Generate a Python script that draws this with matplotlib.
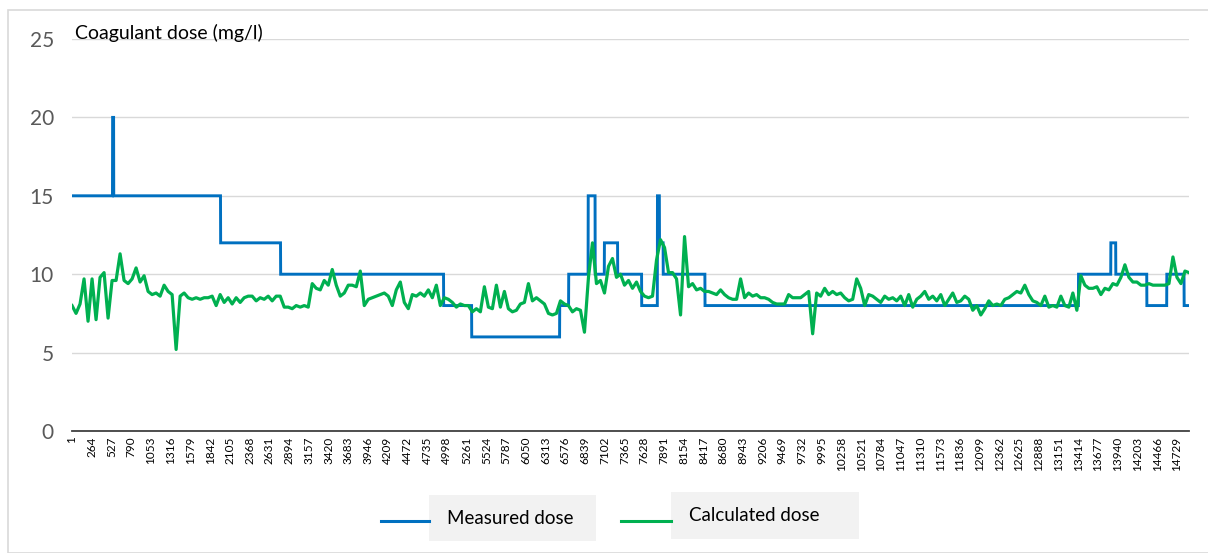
import numpy as np
import matplotlib
matplotlib.use("Agg")
import matplotlib.pyplot as plt
from matplotlib.patches import Rectangle
from matplotlib.lines import Line2D

plt.rcParams['font.family'] = ['Lato', 'DejaVu Sans']

# number of samples on the category axis
n_points = 14890
tick_step = 263

# measured dose: step levels and the sample where each level starts
blue_starts = [0, 540, 555, 1980, 2780, 4953, 5327, 6500, 6620, 6880, 6973,
               7096, 7273, 7593, 7803, 7830, 7880, 8437, 13416, 13847, 13913,
               14327, 14593, 14824]
blue_levels = [15, 20, 15, 12, 10, 8, 6, 8, 10, 15, 10,
               12, 10, 8, 15, 12, 10, 8, 10, 12, 10,
               8, 10, 8]

# calculated dose at even spacing
green_values = [
    # part 1
    8.0, 7.5, 8.1, 9.7, 7.0, 9.7, 7.1, 9.8, 10.1, 7.2,
    9.6, 9.6, 11.3, 9.6, 9.4, 9.7, 10.4, 9.5, 9.9, 8.9,
    8.7, 8.8, 8.6, 9.3, 8.9, 8.7, 5.2, 8.6, 8.8, 8.5,
    8.4, 8.5, 8.4, 8.5, 8.5, 8.6, 8.0, 8.7, 8.2, 8.5,
    8.1, 8.5, 8.2, 8.5, 8.6, 8.6, 8.3, 8.5, 8.4, 8.6,
    8.3, 8.6, 8.6, 7.9, 7.9, 7.8,
    # part 2
    8.0, 7.9, 8.0, 7.9, 9.4, 9.1, 9.0, 9.6, 9.3, 10.3,
    9.3, 8.6, 8.8, 9.3, 9.3, 9.2, 10.2, 8.0, 8.4, 8.5,
    8.6, 8.7, 8.8, 8.6, 8.0, 9.0, 9.5, 8.2, 7.8, 8.7,
    8.6, 8.8, 8.6, 9.0, 8.5, 9.3, 8.0, 8.5, 8.4, 8.2,
    7.9, 8.1, 8.0, 8.0, 7.6, 7.8, 7.6, 9.2, 7.9, 7.8,
    9.3, 7.9, 8.9, 7.8, 7.6,
    # part 3
    7.7, 8.1, 8.2, 9.4, 8.3, 8.5, 8.3, 8.1, 7.5, 7.4,
    7.5, 8.3, 8.1, 8.0, 7.6, 7.8, 7.7, 6.3, 9.8, 12.0,
    9.4, 9.6, 8.8, 10.5, 11.0, 9.8, 10.0, 9.3, 9.6, 9.1,
    9.5, 8.9, 8.6, 8.5, 8.6, 10.9, 12.2, 11.7, 10.1, 10.1,
    9.7, 7.4, 12.4, 9.2, 9.4, 9.0, 9.1, 8.9, 8.9, 8.8,
    8.7, 9.0, 8.7, 8.5, 8.4, 8.4,
    # part 4
    9.7, 8.5, 8.8, 8.6, 8.7, 8.5, 8.5, 8.4, 8.2, 8.1,
    8.1, 8.1, 8.7, 8.5, 8.5, 8.5, 8.7, 8.9, 6.2, 8.8,
    8.6, 9.1, 8.7, 8.9, 8.7, 8.8, 8.5, 8.3, 8.4, 9.7,
    9.1, 8.0, 8.7, 8.6, 8.4, 8.2, 8.6, 8.4, 8.5, 8.3,
    8.6, 8.0, 8.7, 7.9, 8.4, 8.6, 8.9, 8.4, 8.6, 8.3,
    8.7, 8.0, 8.4, 8.8, 8.2,
    # part 5
    8.3, 8.6, 8.4, 7.7, 8.0, 7.4, 7.8, 8.3, 8.0, 8.1,
    8.0, 8.4, 8.5, 8.7, 8.9, 8.8, 9.3, 8.7, 8.3, 8.2,
    8.0, 8.6, 7.9, 8.0, 7.9, 8.6, 8.0, 7.9, 8.8, 7.7,
    9.9, 9.3, 9.1, 9.1, 9.2, 8.7, 9.1, 9.0, 9.4, 9.3,
    9.8, 10.6, 9.8, 9.5, 9.5, 9.3, 9.3, 9.4, 9.3, 9.3,
    9.3, 9.3, 9.4, 11.1, 9.8, 9.4, 10.2, 10.1,
]

y_ticks = [0, 5, 10, 15, 20, 25]
y_title = 'Coagulant dose (mg/l)'
series_names = ['Measured dose', 'Calculated dose']
blue_color = '#0070c0'
green_color = '#00b050'

# build the measured series from its steps
measured = np.repeat(blue_levels, np.diff(np.array(blue_starts + [n_points])))
x_all = np.arange(n_points)
x_green = np.linspace(0, n_points - 1, len(green_values))

fig = plt.figure(figsize=(12.08, 5.53), dpi=100)
W, H = 1208, 553

# light frame of the chart area
fig.patches.append(Rectangle((8 / W, 0), 1.0, 1 - 10 / H, transform=fig.transFigure,
                             fill=False, edgecolor='#d9d9d9', linewidth=1.2))

ax = fig.add_axes([72 / W, 1 - 431 / H, (1189 - 72) / W, (431 - 39) / H])
ax.plot(x_all, measured, color=blue_color, linewidth=2.1, solid_joinstyle='miter')
ax.plot(x_green, green_values, color=green_color, linewidth=2.3)

ax.set_xlim(-0.5, n_points - 0.5)
ax.set_ylim(0, 25)
ax.set_yticks(y_ticks)
ax.set_yticklabels([str(v) for v in y_ticks], fontsize=15, color='#595959')
ax.yaxis.grid(True, color='#d9d9d9', linewidth=1)
ax.set_axisbelow(True)

tick_pos = np.arange(0, n_points, tick_step)
ax.set_xticks(tick_pos)
ax.set_xticklabels([str(p + 1) for p in tick_pos], rotation=90, fontsize=8.5,
                   color='#000000')
ax.tick_params(axis='both', length=0, pad=4)
ax.tick_params(axis='y', pad=13)

for side in ['top', 'right', 'left']:
    ax.spines[side].set_visible(False)
ax.spines['bottom'].set_color('#404040')
ax.spines['bottom'].set_linewidth(1.3)

ax.text(75 / W, 1 - 33 / H, y_title, transform=fig.transFigure, fontsize=14,
        color='#000000', va='center', ha='left')

# legend drawn by hand with the grey label boxes
legend_items = [
    (blue_color, 381, 429, 521, 429, 596, 495, 541, series_names[0]),
    (green_color, 621, 671, 521, 671, 859, 492, 539, series_names[1]),
]
for color, lx0, lx1, ly, bx0, bx1, by0, by1, label in legend_items:
    fig.lines.append(Line2D([lx0 / W, lx1 / W], [1 - ly / H, 1 - ly / H],
                            transform=fig.transFigure, color=color, linewidth=2.2))
    fig.patches.append(Rectangle((bx0 / W, 1 - by1 / H), (bx1 - bx0) / W, (by1 - by0) / H,
                                 transform=fig.transFigure, facecolor='#f2f2f2',
                                 edgecolor='none'))
    fig.text((bx0 + 18) / W, 1 - ((by0 + by1) / 2) / H, label, fontsize=13.5,
             color='#000000', va='center', ha='left')

fig.savefig('out.png', dpi=100)
